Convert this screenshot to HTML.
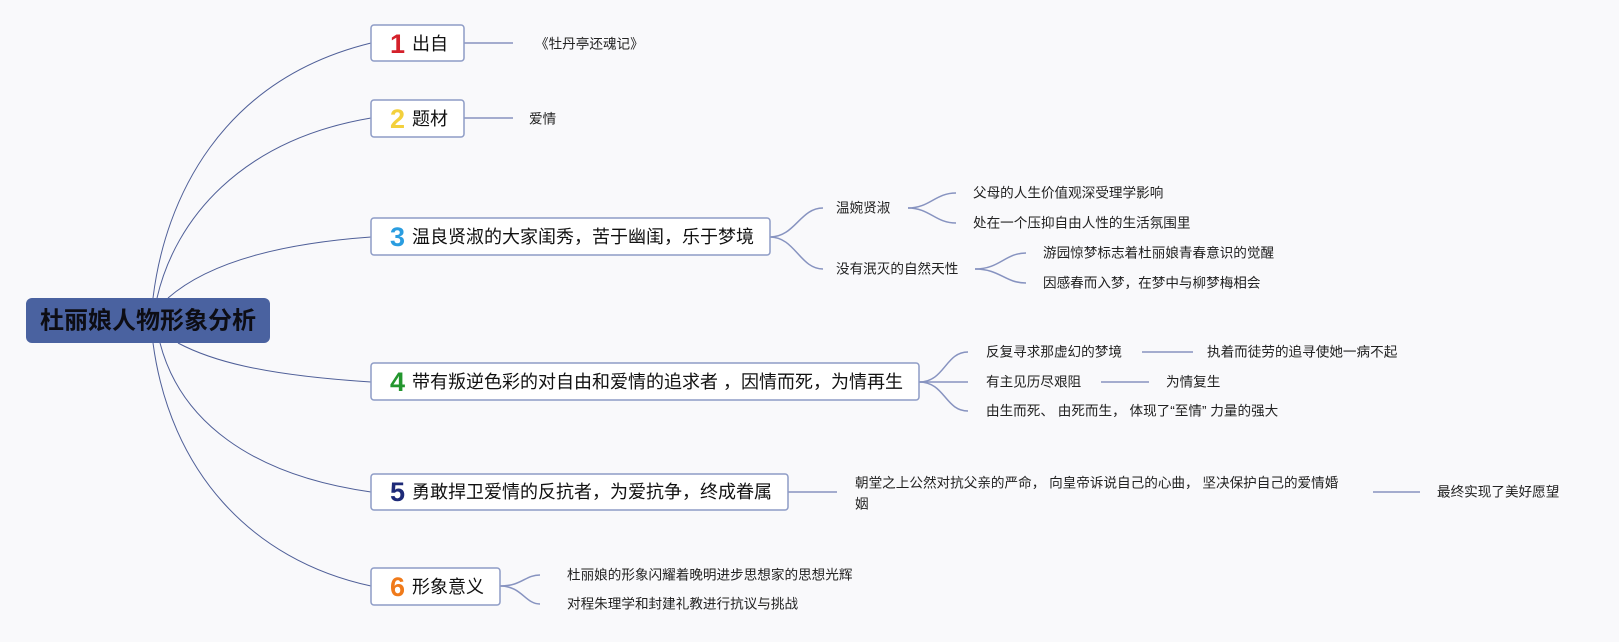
<!DOCTYPE html>
<html><head><meta charset="utf-8"><style>
html,body{margin:0;padding:0;background:#f9f9fb;}
svg{display:block;}
text{font-family:"Liberation Sans","Noto Sans CJK SC",sans-serif;}
.m{font-size:18px;fill:#111;}
.l{font-size:13.6px;fill:#222;}
.d{font-size:27px;font-weight:bold;}
</style></head><body>
<svg width="1619" height="642" viewBox="0 0 1619 642" xmlns="http://www.w3.org/2000/svg">
<g fill="none" stroke="#4f5f98" stroke-width="1">
<path d="M153,298 C165,200 220,80 371,43"/>
<path d="M157,298 C175,220 240,140 371,118"/>
<path d="M168,298 C200,270 260,245 371,237"/>
<path d="M178,343 C210,360 260,375 371,382"/>
<path d="M160,343 C180,420 250,475 371,492"/>
<path d="M153,343 C170,470 250,560 371,586"/>
</g>
<g fill="none" stroke="#8793c0" stroke-width="1.5">
<path d="M464,43 H513"/>
<path d="M464,118 H513"/>
<path d="M770,237 C795,237 800,208 823,208"/>
<path d="M770,237 C795,237 800,269 823,269"/>
<path d="M908,208 C930,208 935,193 956,193"/>
<path d="M908,208 C930,208 935,223 956,223"/>
<path d="M975,269 C1000,269 1005,253 1026,253"/>
<path d="M975,269 C1000,269 1005,283 1026,283"/>
<path d="M919,382 C945,382 945,352 968,352"/>
<path d="M919,382 H968"/>
<path d="M919,382 C945,382 945,411 968,411"/>
<path d="M1142,352 H1193"/>
<path d="M1101,382 H1149"/>
<path d="M788,492 H837"/>
<path d="M1373,492 H1420"/>
<path d="M500,586 C522,586 525,575 540,575"/>
<path d="M500,586 C522,586 525,604 540,604"/>
</g>
<rect x="26" y="298" width="244" height="45" rx="6" fill="#4a62a0"/>
<text x="148" y="321" text-anchor="middle" dominant-baseline="central" style="font-size:24px;font-weight:bold;fill:#0d0d14">杜丽娘人物形象分析</text>
<g fill="#fff" stroke="#8e9cc6" stroke-width="1.5">
<rect x="371" y="25" width="93" height="36" rx="3"/>
<rect x="371" y="100" width="93" height="37" rx="3"/>
<rect x="371" y="218" width="399" height="37" rx="3"/>
<rect x="371" y="363" width="548" height="37" rx="3"/>
<rect x="371" y="474" width="417" height="36" rx="3"/>
<rect x="371" y="568" width="129" height="37" rx="3"/>
</g>
<g dominant-baseline="central">
<text class="d" x="390" y="44" fill="#d4202a">1</text><text class="m" x="412" y="44">出自</text>
<text class="d" x="390" y="119" fill="#f3d03c">2</text><text class="m" x="412" y="119">题材</text>
<text class="d" x="390" y="237" fill="#2a9de0">3</text><text class="m" x="412" y="237">温良贤淑的大家闺秀，苦于幽闺，乐于梦境</text>
<text class="d" x="390" y="382" fill="#23962e">4</text><text class="m" x="412" y="382">带有叛逆色彩的对自由和爱情的追求者 ，因情而死，为情再生</text>
<text class="d" x="390" y="492" fill="#1e2a78">5</text><text class="m" x="412" y="492">勇敢捍卫爱情的反抗者，为爱抗争，终成眷属</text>
<text class="d" x="390" y="587" fill="#f07a1a">6</text><text class="m" x="412" y="587">形象意义</text>

<text class="l" x="535" y="44">《牡丹亭还魂记》</text>
<text class="l" x="529" y="119">爱情</text>
<text class="l" x="836" y="208">温婉贤淑</text>
<text class="l" x="836" y="269">没有泯灭的自然天性</text>
<text class="l" x="973" y="193">父母的人生价值观深受理学影响</text>
<text class="l" x="973" y="223">处在一个压抑自由人性的生活氛围里</text>
<text class="l" x="1043" y="253">游园惊梦标志着杜丽娘青春意识的觉醒</text>
<text class="l" x="1043" y="283">因感春而入梦，在梦中与柳梦梅相会</text>
<text class="l" x="986" y="352">反复寻求那虚幻的梦境</text>
<text class="l" x="1207" y="352">执着而徒劳的追寻使她一病不起</text>
<text class="l" x="986" y="382">有主见历尽艰阻</text>
<text class="l" x="1166" y="382">为情复生</text>
<text class="l" x="986" y="411">由生而死、 由死而生， 体现了“至情” 力量的强大</text>
<text class="l" x="855" y="483">朝堂之上公然对抗父亲的严命， 向皇帝诉说自己的心曲， 坚决保护自己的爱情婚</text>
<text class="l" x="855" y="504">姻</text>
<text class="l" x="1437" y="492">最终实现了美好愿望</text>
<text class="l" x="567" y="575">杜丽娘的形象闪耀着晚明进步思想家的思想光辉</text>
<text class="l" x="567" y="604">对程朱理学和封建礼教进行抗议与挑战</text>
</g>
</svg>
</body></html>
